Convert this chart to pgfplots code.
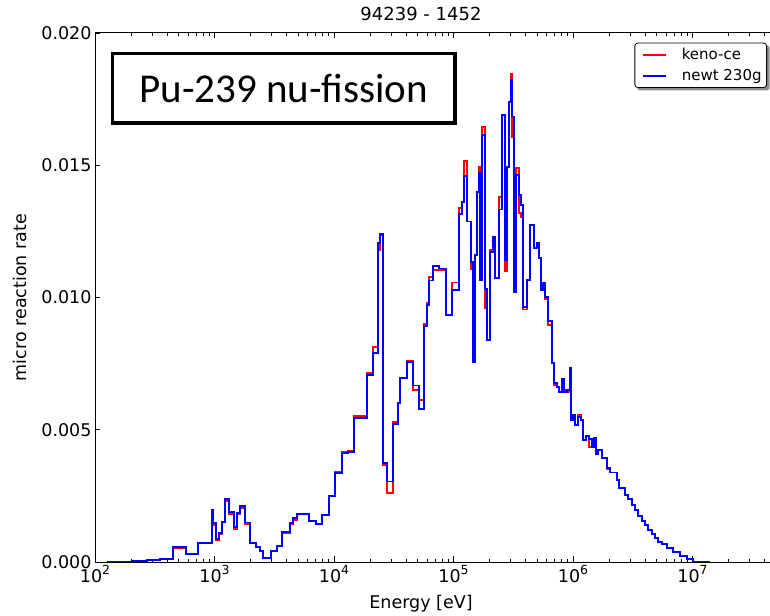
\documentclass[border=0pt]{standalone}
\usepackage{pgfplots}
\pgfplotsset{compat=1.18}
\usepackage{pgfplotstable}
\usepackage{fontspec}
\setmainfont{DejaVu Sans}
\newfontfamily\carlito{Carlito}
\usetikzlibrary{backgrounds}

\pgfplotstableread{
E newt keno
126 0.00001 0.00001
162 0.00001 0.00001
208 0.00005 0.00005
272 0.00008 0.00008
350 0.00010 0.00010
447 0.00056 0.00053
577 0.00031 0.00028
732 0.00073 0.00071
948 0.00197 0.00190
977 0.00146 0.00140
1029 0.00086 0.00082
1097 0.00111 0.00107
1162 0.00152 0.00150
1224 0.00238 0.00232
1330 0.00188 0.00182
1465 0.00133 0.00124
1552 0.00186 0.00180
1635 0.00212 0.00205
1800 0.00149 0.00143
1982 0.00073 0.00070
2225 0.00058 0.00056
2403 0.00042 0.00040
2561 0.00014 0.00014
2953 0.00043 0.00043
3315 0.00060 0.00060
3651 0.00112 0.00108
4283 0.00146 0.00144
4564 0.00165 0.00160
4931 0.00180 0.00182
6216 0.00156 0.00156
7070 0.00143 0.00143
7894 0.00178 0.00176
9134 0.00250 0.00248
10195 0.00335 0.00340
11600 0.00411 0.00416
13170 0.00417 0.00420
14700 0.00543 0.00552
19000 0.00707 0.00715
21080 0.00791 0.00814
23210 0.01205 0.01180
24260 0.01240 0.01235
25550 0.00375 0.00367
27930 0.00304 0.00260
31350 0.00522 0.00530
34120 0.00600 0.00600
35670 0.00695 0.00695
40590 0.00757 0.00761
46090 0.00667 0.00650
51740 0.00578 0.00612
56660 0.00892 0.00900
59680 0.00972 0.00980
62740 0.01064 0.01079
67760 0.01119 0.01104
76060 0.01110 0.01104
86530 0.00934 0.00934
97720 0.01028 0.01057
110500 0.01316 0.01337
117100 0.01362 0.01362
122400 0.01459 0.01516
130500 0.01287 0.01287
139300 0.01135 0.01107
144800 0.00757 0.00770
150500 0.01161 0.01161
156400 0.01400 0.01400
162500 0.01470 0.01494
166700 0.01066 0.01250
173200 0.01614 0.01646
182500 0.01031 0.00960
191800 0.00839 0.00839
202100 0.01173 0.01180
212800 0.01230 0.01230
223800 0.01073 0.01073
241700 0.01333 0.01379
254600 0.01690 0.01690
271300 0.01142 0.01101
282000 0.01494 0.01494
293100 0.01740 0.01740
301100 0.01822 0.01845
308700 0.01684 0.01608
320800 0.01022 0.01022
333400 0.01463 0.01489
351200 0.01388 0.01318
365000 0.01350 0.01305
383800 0.00965 0.00955
414600 0.01066 0.01066
436700 0.01274 0.01274
471600 0.01186 0.01186
496700 0.01207 0.01207
516400 0.01148 0.01148
536700 0.01028 0.01028
557700 0.01054 0.01054
583100 0.01001 0.00993
621600 0.00912 0.00896
663500 0.00753 0.00753
693500 0.00676 0.00669
730500 0.00663 0.00663
768200 0.00644 0.00644
804500 0.00691 0.00691
841000 0.00644 0.00650
885800 0.00650 0.00644
943900 0.00732 0.00732
962300 0.00537 0.00537
994300 0.00556 0.00556
1.039e6 0.00518 0.00518
1.108e6 0.00549 0.00556
1.160e6 0.00537 0.00537
1.220e6 0.00461 0.00461
1.285e6 0.00476 0.00476
1.369e6 0.00464 0.00436
1.434e6 0.00436 0.00436
1.499e6 0.00471 0.00471
1.558e6 0.00408 0.00408
1.628e6 0.00423 0.00423
1.739e6 0.00392 0.00392
1.936e6 0.00354 0.00350
2.040e6 0.00338 0.00338
2.348e6 0.00310 0.00310
2.440e6 0.00279 0.00279
2.723e6 0.00253 0.00253
2.902e6 0.00237 0.00237
3.098e6 0.00216 0.00216
3.302e6 0.00197 0.00197
3.519e6 0.00174 0.00174
3.757e6 0.00156 0.00156
4.004e6 0.00140 0.00140
4.268e6 0.00121 0.00121
4.556e6 0.00106 0.00106
4.857e6 0.00090 0.00090
5.174e6 0.00077 0.00077
5.525e6 0.00067 0.00067
6.084e6 0.00054 0.00054
6.909e6 0.00039 0.00039
7.862e6 0.00023 0.00023
8.946e6 0.00010 0.00010
1.016e7 0.00002 0.00002
1.224e7 0.000005 0.000005
1.401e7 0.000005 0.000005
}\ratedata

\newcommand{\pw}[1]{10\raisebox{8bp}{\fontsize{12.5bp}{14bp}\selectfont #1}}

\begin{document}
\begin{tikzpicture}[font=\fontsize{17.5bp}{21bp}\selectfont]
\useasboundingbox (-95bp,-54bp) rectangle (675bp,562bp);
\begin{axis}[
  at={(0,0)}, anchor=south west,
  scale only axis, width=681bp, height=529bp,
  xmode=log, xmin=100, xmax=5e7, ymin=0, ymax=0.02,
  xtick={1e2,1e3,1e4,1e5,1e6,1e7},
  xticklabels={\pw{2},\pw{3},\pw{4},\pw{5},\pw{6},\pw{7}},
  minor xtick={200,300,400,500,600,700,800,900,2000,3000,4000,5000,6000,7000,8000,9000,20000,30000,40000,50000,60000,70000,80000,90000,2e5,3e5,4e5,5e5,6e5,7e5,8e5,9e5,2e6,3e6,4e6,5e6,6e6,7e6,8e6,9e6,2e7,3e7,4e7},
  ytick={0,0.005,0.01,0.015,0.02},
  yticklabels={0.000,0.005,0.010,0.015,0.020},
  scaled y ticks=false,
  tick align=inside,
  major tick length=5.5bp, minor tick length=3bp,
  every tick/.style={black, line width=0.8bp},
  axis line style={line width=1bp},
  title={\fontsize{18bp}{21bp}\selectfont 94239 - 1452},
  title style={at={(axis description cs:0.4787,1.0255)}, anchor=center},
  xlabel={Energy [eV]},
  xlabel style={at={(axis description cs:0.4787,-0.0794)}, anchor=center},
  ylabel={micro reaction rate},
  ylabel style={at={(axis description cs:-0.1101,0.5)}, anchor=center},
  legend style={name=leg, at={(axis description cs:0.9868,0.9817)}, anchor=north east,
    draw=black, line width=0.8bp, rounded corners=3bp, fill=white,
    font=\fontsize{15bp}{18bp}\selectfont,
    inner xsep=3bp, inner ysep=3.5bp, row sep=4bp, column sep=12.5bp,
    nodes={inner sep=2bp}},
  legend cell align=left,
  legend image code/.code={\path (0bp,0bp); \draw[#1, line width=1.7bp] (4.7bp,0bp) -- (27.7bp,0bp);},
]
\addplot[red, line width=1.8bp, const plot mark left] table[x=E, y=keno]{\ratedata};
\addlegendentry{keno-ce}
\addplot[blue, line width=1.8bp, const plot mark left] table[x=E, y=newt]{\ratedata};
\addlegendentry{newt 230g}
\end{axis}
\begin{scope}[on background layer]
\fill[black!45, rounded corners=3bp] ([shift={(2.5bp,-2.5bp)}]leg.south west) rectangle ([shift={(2.5bp,-2.5bp)}]leg.north east);
\end{scope}
\node[draw=black, line width=3.5bp, fill=white, minimum width=342.5bp, minimum height=69.5bp, inner sep=0pt, font=\carlito\fontsize{41bp}{48bp}\selectfont] at (188.7bp,473.5bp) {Pu-239 nu-fission};
\end{tikzpicture}
\end{document}
